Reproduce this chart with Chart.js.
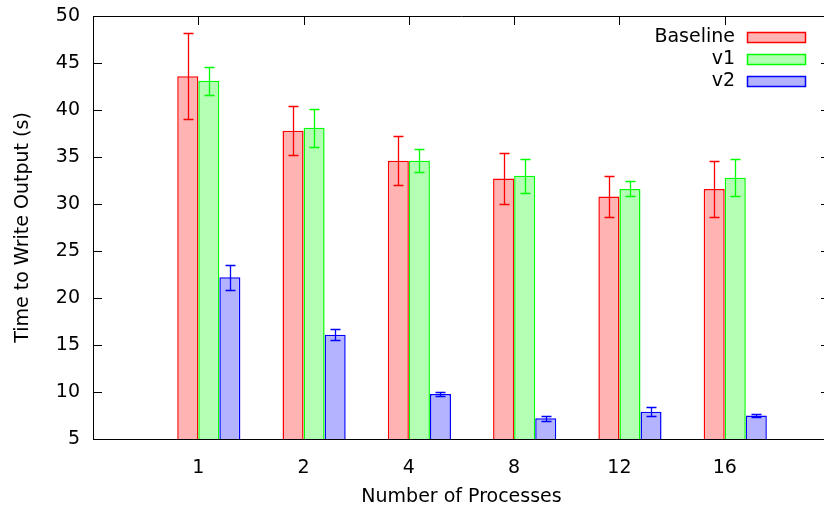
<!DOCTYPE html>
<html lang="en">
<head>
  <meta charset="UTF-8" />
  <title>Time to Write Output</title>
  <script src="https://cdn.jsdelivr.net/npm/chart.js"></script>
  <style>
    html, body { margin: 0; padding: 0; background: #fff; overflow: hidden; }
    /* the plot frame runs a few pixels past the right edge of the picture */
    #wrap { width: 830px; height: 508px; position: relative; }
  </style>
</head>
<body>
  <div id="wrap"><canvas id="grafico"></canvas></div>

  <script>
    // values (mean and +/- error)
    const processos = ["1", "2", "4", "8", "12", "16"];
    const baseline = [43.6, 37.8, 34.6, 32.7, 30.8, 31.6];
    const baselineErr = [4.6, 2.6, 2.6, 2.7, 2.2, 3.0];
    const v1 = [43.1, 38.1, 34.6, 33.0, 31.6, 32.8];
    const v1Err = [1.5, 2.0, 1.2, 1.8, 0.8, 2.0];
    const v2 = [22.2, 16.1, 9.8, 7.2, 7.9, 7.5];
    const v2Err = [1.3, 0.6, 0.2, 0.3, 0.5, 0.2];
    const yMin = 5, yMax = 50, yStep = 5;

    const erros = [baselineErr, v1Err, v2Err];
    const pontos = arr => arr.map((v, i) => ({ x: i, y: v }));

    Chart.defaults.font.family = "'DejaVu Sans', sans-serif";
    Chart.defaults.font.size = 19;
    Chart.defaults.color = "#000";

    // error bars, drawn on top of the bars
    const barrasErro = {
      id: "barrasErro",
      afterDatasetsDraw(chart) {
        const { ctx, scales: { y } } = chart;
        chart.data.datasets.forEach((ds, d) => {
          const meta = chart.getDatasetMeta(d);
          ctx.save();
          ctx.strokeStyle = ds.borderColor;
          ctx.lineWidth = 1.3;
          meta.data.forEach((bar, i) => {
            const v = ds.data[i].y, e = erros[d][i];
            const topo = Math.round(y.getPixelForValue(v + e)) + 0.5;
            const base = Math.round(y.getPixelForValue(v - e)) + 0.5;
            const px = Math.round(bar.x) + 0.5;
            ctx.beginPath();
            ctx.moveTo(px, topo); ctx.lineTo(px, base);
            ctx.moveTo(px - 5, topo); ctx.lineTo(px + 5, topo);
            ctx.moveTo(px - 5, base); ctx.lineTo(px + 5, base);
            ctx.stroke();
          });
          ctx.restore();
        });
      }
    };

    // gnuplot style frame: top border and inward tics
    const moldura = {
      id: "moldura",
      afterDraw(chart) {
        const { ctx, chartArea: a, scales: { x, y } } = chart;
        ctx.save();
        ctx.strokeStyle = "#000";
        ctx.lineWidth = 1;
        ctx.beginPath();
        ctx.moveTo(a.left, a.top + 0.5); ctx.lineTo(a.right, a.top + 0.5);
        ctx.moveTo(a.right - 0.5, a.top); ctx.lineTo(a.right - 0.5, a.bottom);
        y.ticks.forEach(t => {
          const py = Math.round(y.getPixelForValue(t.value)) + 0.5;
          ctx.moveTo(a.left, py); ctx.lineTo(a.left + 9, py);
          ctx.moveTo(a.right - 9, py); ctx.lineTo(a.right, py);
        });
        x.ticks.forEach(t => {
          const px = Math.round(x.getPixelForValue(t.value)) + 0.5;
          ctx.moveTo(px, a.top); ctx.lineTo(px, a.top + 9);
        });
        ctx.stroke();
        ctx.restore();
      }
    };

    // key in the top right corner, sample box to the right of the text
    const legenda = {
      id: "legenda",
      afterDraw(chart) {
        const { ctx, chartArea: a } = chart;
        ctx.save();
        ctx.font = "19px 'DejaVu Sans'";
        ctx.textAlign = "right";
        ctx.textBaseline = "middle";
        chart.data.datasets.forEach((ds, i) => {
          const cy = Math.round(a.top + 21 + i * 22.2);
          ctx.fillStyle = "#000";
          ctx.fillText(ds.label, a.right - 95, cy);
          ctx.fillStyle = ds.backgroundColor;
          ctx.fillRect(a.right - 83, cy - 5, 59, 11);
          ctx.strokeStyle = ds.borderColor;
          ctx.lineWidth = 1.5;
          ctx.strokeRect(a.right - 82.5, cy - 4.5, 58, 10);
        });
        ctx.restore();
      }
    };

    new Chart(document.getElementById("grafico"), {
      type: "bar",
      data: {
        datasets: [
          { label: "Baseline", data: pontos(baseline), backgroundColor: "#ffb3b3", borderColor: "#ff0000", borderWidth: 1.5 },
          { label: "v1", data: pontos(v1), backgroundColor: "#b3ffb3", borderColor: "#00ff00", borderWidth: 1.5 },
          { label: "v2", data: pontos(v2), backgroundColor: "#b3b3ff", borderColor: "#0000ff", borderWidth: 1.5 }
        ]
      },
      options: {
        responsive: true,
        maintainAspectRatio: false,
        animation: false,
        layout: { padding: { top: 16, right: 0, bottom: 0, left: 0 } },
        datasets: { bar: { categoryPercentage: 0.6, barPercentage: 1.0 } },
        scales: {
          x: {
            type: "linear",
            min: -1.1,
            max: 5.9,
            offset: false,
            grid: { display: false, drawTicks: false, offset: false },
            border: { display: true, color: "#000", width: 1 },
            afterBuildTicks: s => {
              // the tic sits between the first and second bar of each cluster
              s.ticks = processos.map((_, i) => ({ value: i - 0.1 }));
            },
            ticks: { autoSkip: false, maxRotation: 0, padding: 18, callback: (v, i) => processos[i] },
            title: { display: true, text: "Number of Processes", padding: { top: 0, bottom: 0 } },
            afterFit: s => {
              s.height = 69;
              s.paddingLeft = 0; s.paddingRight = 0;
            }
          },
          y: {
            min: yMin,
            max: yMax,
            grid: { display: false, drawTicks: false },
            border: { display: true, color: "#000", width: 1 },
            ticks: { stepSize: yStep, padding: 13 },
            title: { display: true, text: "Time to Write Output (s)", padding: { top: 12, bottom: 0 } },
            afterFit: s => {
              s.width = 93;
              s.paddingTop = 0; s.paddingBottom = 0;
            }
          }
        },
        plugins: {
          legend: { display: false },
          tooltip: { enabled: false }
        }
      },
      plugins: [barrasErro, moldura, legenda]
    });
  </script>
</body>
</html>
